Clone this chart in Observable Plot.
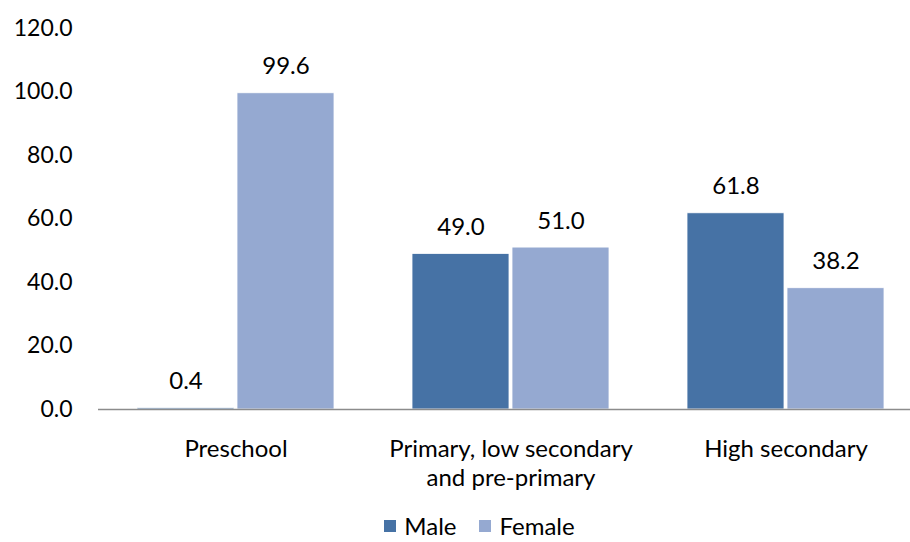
<!DOCTYPE html>
<html>
<head>
<meta charset="utf-8">
<script src="https://cdn.jsdelivr.net/npm/d3@7"></script>
<script src="https://cdn.jsdelivr.net/npm/@observablehq/plot@0.6"></script>
<style>
  html, body { margin: 0; padding: 0; background: #fff; overflow: hidden; }
  body { width: 910px; height: 542px; font-family: Lato, "Open Sans", sans-serif; }
  #chart svg { display: block; }
  #legend { display: flex; justify-content: center; align-items: center; height: 20px; line-height: 20px; font-size: 24px; color: #000; margin-left: 49px; margin-top: 4px; }
  .item { display: flex; align-items: center; margin: 0 11.5px; }
  .item span { line-height: 20px; }
  .sw { width: 12px; height: 12px; margin-right: 8px; }
</style>
</head>
<body>
<div id="chart"></div>
<div id="legend"></div>
<script>
const categories = ["Preschool", "Primary, low secondary\nand pre-primary", "High secondary"];
const genders = ["Male", "Female"];
const male = [0.4, 49.0, 61.8];
const female = [99.6, 51.0, 38.2];
const yTicks = [0, 20, 40, 60, 80, 100, 120];
const colors = ["#4672a5", "#95a9d1"];

const rows = [];
categories.forEach((c, i) => {
  rows.push({cat: c, gender: "Male", value: male[i]});
  rows.push({cat: c, gender: "Female", value: female[i]});
});

const fmt = d3.format(".1f");
const FS = 24;

const chart = Plot.plot({
  width: 910,
  height: 512,
  marginTop: 28,
  marginBottom: 103,
  marginLeft: 97,
  marginRight: -13.5,
  style: {fontFamily: "Lato, 'Open Sans', sans-serif", fontSize: FS + "px", color: "#000", background: "transparent", overflow: "visible"},
  fx: {domain: categories, axis: null, padding: 0},
  x: {domain: genders, axis: null, paddingInner: 0.03, paddingOuter: 0.388},
  y: {domain: [0, 120], axis: null},
  color: {domain: genders, range: colors},
  marks: [
    Plot.barY(rows, {fx: "cat", x: "gender", y: "value", fill: "gender", stroke: "white", strokeWidth: 0.8}),
    Plot.ruleY([0], {stroke: "#8c8c8c", strokeWidth: 1.3}),
    Plot.axisY({ticks: yTicks, tickFormat: fmt, tickSize: 0, tickPadding: 26, line: true, stroke: "#8c8c8c", fill: "#000", fontSize: 23, label: null, strokeWidth: 1.3}),
    Plot.text(rows, {fx: "cat", x: "gender", y: "value", text: d => fmt(d.value), lineAnchor: "bottom", dy: -19, fill: "#000", fontSize: FS}),
    Plot.text(categories, {fx: d => d, text: d => d, frameAnchor: "bottom", lineAnchor: "top", dy: 26, lineHeight: 1.24, fill: "#000", fontSize: FS})
  ]
});
document.getElementById("chart").appendChild(chart);

const legend = document.getElementById("legend");
genders.forEach((g, i) => {
  const item = document.createElement("div");
  item.className = "item";
  const sw = document.createElement("div");
  sw.className = "sw";
  sw.style.background = colors[i];
  const t = document.createElement("span");
  t.textContent = g;
  item.appendChild(sw);
  item.appendChild(t);
  legend.appendChild(item);
});
</script>
</body>
</html>
